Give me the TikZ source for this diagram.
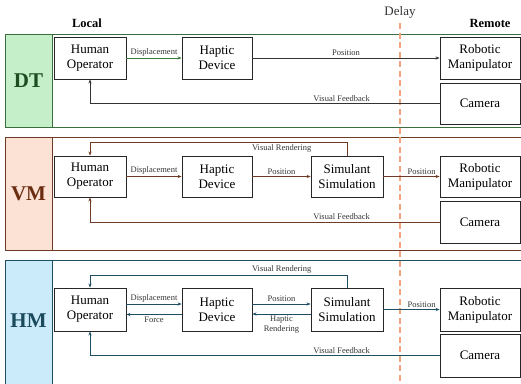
\documentclass[tikz,border=0pt]{standalone}
\usepackage{fontspec}
\setmainfont{Liberation Serif}
\usetikzlibrary{arrows.meta}
\definecolor{dtline}{HTML}{3B6E3F}
\definecolor{dtfill}{HTML}{C4EFC8}
\definecolor{dttext}{HTML}{1D4D20}
\definecolor{dtarrow}{HTML}{3D7A3D}
\definecolor{vmline}{HTML}{6E3B24}
\definecolor{vmfill}{HTML}{FBE2D5}
\definecolor{vmtext}{HTML}{6B2D12}
\definecolor{hmline}{HTML}{1F4E63}
\definecolor{hmfill}{HTML}{CBEBFA}
\definecolor{hmtext}{HTML}{1A4A5C}
\definecolor{delaycol}{HTML}{F2A47E}
\definecolor{lblcol}{HTML}{333333}
\begin{document}
\begin{tikzpicture}[x=1pt,y=-1pt,
  box/.style={draw=black!85, line width=0.9pt, fill=white, inner sep=0pt,
    minimum width=72pt, minimum height=42pt, align=center,
    font=\fontsize{13}{15}\selectfont},
  wbox/.style={box, minimum width=70pt},
  rbox/.style={box, minimum width=80pt},
  panel/.style={line width=0.9pt},
  tag/.style={font=\fontsize{21}{21}\selectfont\bfseries},
  lbl/.style={font=\fontsize{8.5}{9.5}\selectfont, text=lblcol, inner sep=1.5pt},
  conn/.style={line width=0.9pt, -{Stealth[length=4pt,width=3.2pt]}},
  line/.style={line width=0.9pt},
  delayline/.style={draw=delaycol, line width=1.6pt, dash pattern=on 6pt off 3.5pt}
]
\useasboundingbox (0,0) rectangle (521,383);
\clip (0,0) rectangle (521,383);

% headers
\node[font=\fontsize{12.5}{13}\selectfont\bfseries] (local) at (87,23) {Local};
\node[font=\fontsize{12.5}{13}\selectfont\bfseries] (remote) at (490,23) {Remote};
\node[font=\fontsize{13}{13}\selectfont, text=black!80] (delay) at (400,12) {Delay};

% panels
\draw[panel, draw=dtline] (5,34) rectangle (530,127);
\draw[panel, draw=dtline, fill=dtfill] (5,34) rectangle (52,127);
\node[tag, text=dttext] (dt) at (28.5,81) {DT};

\draw[panel, draw=vmline] (5,137) rectangle (530,250);
\draw[panel, draw=vmline, fill=vmfill] (5,137) rectangle (52,250);
\node[tag, text=vmtext] (vm) at (28.5,194) {VM};

\draw[panel, draw=hmline] (5,260) rectangle (530,395);
\draw[panel, draw=hmline, fill=hmfill] (5,260) rectangle (52,395);
\node[tag, text=hmtext] (hm) at (28.5,321) {HM};

% delay line
\coordinate (dtop) at (400,23);
\coordinate (dbot) at (400,383);
\draw[delayline] (dtop) -- (dbot);

% ---------- DT ----------
\node[box] (ho1) at (90,58) {Human\\Operator};
\node[wbox] (hd1) at (217,58) {Haptic\\Device};
\node[rbox] (rm1) at (480,58) {Robotic\\Manipulator};
\node[rbox, minimum height=41pt] (cam1) at (480,103.5) {Camera};

\draw[conn, draw=dtarrow] (ho1.east) -- (hd1.west) node[lbl, midway, above] {Displacement};
\draw[conn, draw=black!80] (hd1.east) -- (rm1.west) node[lbl, pos=0.5, above] {Position};
\draw[conn, draw=black!80] (cam1.west) -| (ho1.south) node[lbl, pos=0.14, above] {Visual Feedback};

% ---------- VM ----------
\node[box, minimum height=41pt] (ho2) at (90,176.5) {Human\\Operator};
\node[wbox, minimum height=41pt] (hd2) at (217,176.5) {Haptic\\Device};
\node[box, minimum height=41pt] (sim2) at (347,176.5) {Simulant\\Simulation};
\node[rbox, minimum height=41pt] (rm2) at (480,176.5) {Robotic\\Manipulator};
\node[rbox] (cam2) at (480,222) {Camera};

\draw[conn, draw=vmline] (ho2.east) -- (hd2.west) node[lbl, midway, above] {Displacement};
\draw[conn, draw=vmline] (hd2.east) -- (sim2.west) node[lbl, midway, above] {Position};
\draw[conn, draw=vmline] (sim2.east) -- (rm2.west) node[lbl, pos=0.68, above] {Position};
\draw[conn, draw=vmline] (sim2.north) -- ++(0,-13) coordinate (vr2) -| (ho2.north) node[lbl, pos=0.127, below] {Visual Rendering};
\draw[conn, draw=vmline] (cam2.west) -| (ho2.south) node[lbl, pos=0.14, above] {Visual Feedback};

% ---------- HM ----------
\node[box, minimum height=43pt] (ho3) at (90,309.5) {Human\\Operator};
\node[wbox, minimum height=43pt] (hd3) at (217,309.5) {Haptic\\Device};
\node[box, minimum height=43pt] (sim3) at (347,309.5) {Simulant\\Simulation};
\node[rbox, minimum height=43pt] (rm3) at (480,309.5) {Robotic\\Manipulator};
\node[rbox, minimum height=43pt] (cam3) at (480,355.5) {Camera};

\draw[conn, draw=hmline] ([yshift=5.5pt]ho3.east) -- ([yshift=5.5pt]hd3.west) node[lbl, midway, above] {Displacement};
\draw[conn, draw=hmline] ([yshift=-5pt]hd3.west) -- ([yshift=-5pt]ho3.east) node[lbl, midway, below] {Force};
\draw[conn, draw=hmline] ([yshift=5.5pt]hd3.east) -- ([yshift=5.5pt]sim3.west) node[lbl, midway, above] {Position};
\draw[conn, draw=hmline] ([yshift=-4.5pt]sim3.west) -- ([yshift=-4.5pt]hd3.east) node[lbl, midway, below, align=center] {Haptic\\Rendering};
\draw[conn, draw=hmline] (sim3.east) -- (rm3.west) node[lbl, pos=0.68, above] {Position};
\draw[conn, draw=hmline] (sim3.north) -- ++(0,-12) coordinate (vr3) -| (ho3.north) node[lbl, pos=0.127, above] {Visual Rendering};
\draw[conn, draw=hmline] (cam3.west) -| (ho3.south) node[lbl, pos=0.14, above] {Visual Feedback};
\end{tikzpicture}
\end{document}
